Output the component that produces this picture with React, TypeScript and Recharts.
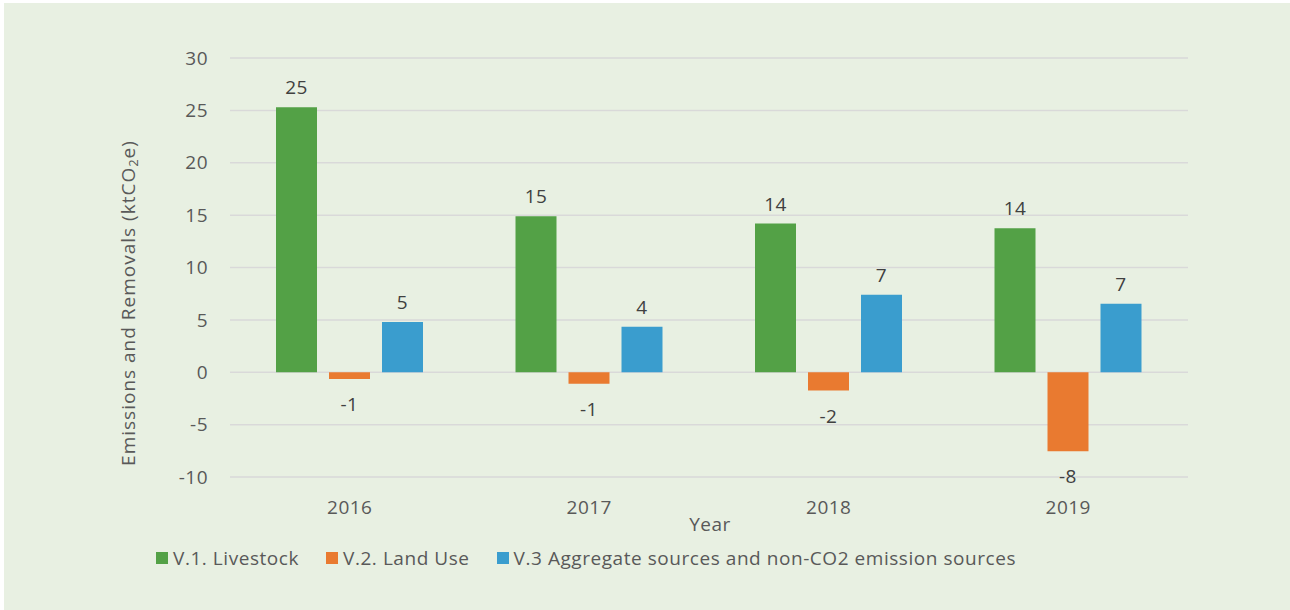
import React from "react";
import { BarChart, Bar, XAxis, YAxis, CartesianGrid, LabelList } from "recharts";

const years = ["2016", "2017", "2018", "2019"];
const livestock = [25.3, 14.9, 14.2, 13.75];
const landUse = [-0.65, -1.1, -1.75, -7.55];
const aggregate = [4.8, 4.35, 7.4, 6.55];
const yTicks = [-10, -5, 0, 5, 10, 15, 20, 25, 30];

const series = [
  { key: "livestock", name: "V.1. Livestock", color: "#53a146" },
  { key: "landUse", name: "V.2. Land Use", color: "#e97a30" },
  { key: "aggregate", name: "V.3 Aggregate sources and non-CO2 emission sources", color: "#3a9dce" },
];

const data = years.map((year, i) => ({
  year,
  livestock: livestock[i],
  landUse: landUse[i],
  aggregate: aggregate[i],
}));

const FONT = "'Open Sans', sans-serif";
const AXIS_TEXT = "#595959";
const LABEL_TEXT = "#404040";

function ValueLabel(props: any) {
  const { x, y, width, height, value } = props;
  const top = Math.min(y, y + height);
  const bottom = Math.max(y, y + height);
  const ty = value >= 0 ? top - 13 : bottom + 32;
  return (
    <text
      x={x + width / 2}
      y={ty}
      textAnchor="middle"
      fontSize={19}
      letterSpacing={0.5}
      fontFamily={FONT}
      fill={LABEL_TEXT}
    >
      {Math.round(value)}
    </text>
  );
}

function YTitle(props: any) {
  const cx = 124;
  const cy = 300;
  return (
    <text
      x={cx}
      y={cy}
      transform={`rotate(-90, ${cx}, ${cy})`}
      textAnchor="middle"
      dominantBaseline="central"
      fontSize={19}
      letterSpacing={1}
      fontFamily={FONT}
      fill={AXIS_TEXT}
    >
      Emissions and Removals (ktCO
      <tspan fontSize={13} dy={5}>2</tspan>
      <tspan dy={-5}>e)</tspan>
    </text>
  );
}

function XTitle(props: any) {
  const vb = props.viewBox || {};
  return (
    <text
      x={vb.x + vb.width / 2 + 1}
      y={vb.y + 54}
      textAnchor="middle"
      fontSize={19}
      letterSpacing={0.5}
      fontFamily={FONT}
      fill={AXIS_TEXT}
    >
      Year
    </text>
  );
}

const tickStyle = { fontSize: 19, fontFamily: FONT, fill: AXIS_TEXT, letterSpacing: 0.5 };

export default function App() {
  return (
    <div style={{ position: "absolute", left: 0, top: 0, width: 1290, height: 610, background: "#fff", overflow: "hidden" }}>
      <div style={{ position: "absolute", left: 4, top: 3, width: 1286, height: 607, background: "#e8f0e2" }}>
        <BarChart
          width={1286}
          height={607}
          data={data}
          margin={{ top: 55, right: 102, bottom: 0, left: 10 }}
          barCategoryGap={46}
          barGap={12}
        >
          <CartesianGrid vertical={false} stroke="#d9d9d9" strokeWidth={1.5} />
          <XAxis
            dataKey="year"
            height={133}
            axisLine={false}
            tickLine={false}
            tickSize={0}
            tickMargin={24}
            tick={tickStyle}
            label={<XTitle />}
          />
          <YAxis
            width={216}
            domain={[-10, 30]}
            ticks={yTicks}
            interval={0}
            axisLine={false}
            tickLine={false}
            tickSize={0}
            tickMargin={22}
            tick={tickStyle}
            label={<YTitle />}
          />
          {series.map((s) => (
            <Bar key={s.key} dataKey={s.key} name={s.name} fill={s.color} isAnimationActive={false}>
              <LabelList dataKey={s.key} content={<ValueLabel />} />
            </Bar>
          ))}
        </BarChart>
        <div
          style={{
            position: "absolute",
            left: 152,
            top: 542,
            display: "flex",
            alignItems: "center",
            fontFamily: FONT,
            fontSize: 19,
            letterSpacing: 0.55,
            color: AXIS_TEXT,
            whiteSpace: "nowrap",
          }}
        >
          {series.map((s, i) => (
            <div key={s.key} style={{ display: "flex", alignItems: "center", marginLeft: i === 0 ? 0 : 27 }}>
              <span style={{ width: 12, height: 12, background: s.color, marginRight: 5, display: "inline-block" }} />
              <span>{s.name}</span>
            </div>
          ))}
        </div>
      </div>
    </div>
  );
}
